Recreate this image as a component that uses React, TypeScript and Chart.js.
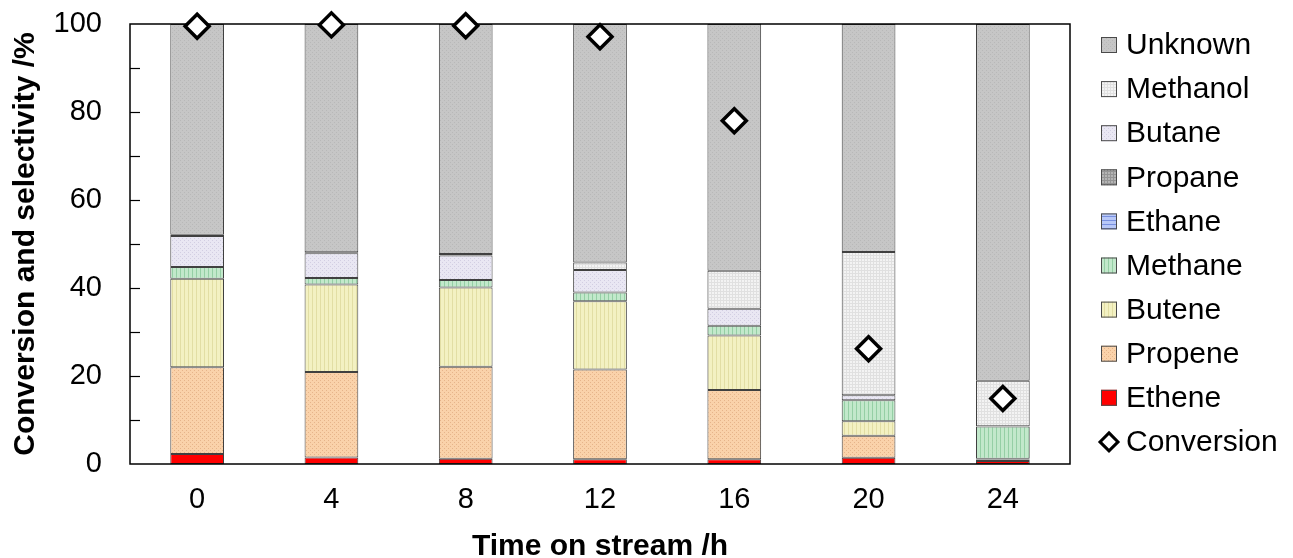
import React, { useEffect, useRef } from "react";
import { Chart, registerables } from "chart.js";
Chart.register(...registerables);

const categories = ["0", "4", "8", "12", "16", "20", "24"];
const ethene = [2.3, 1.5, 1.2, 1.1, 1.1, 1.4, 0.7];
const propene = [19.7, 19.4, 20.9, 20.4, 15.7, 5.0, 0.3];
const butene = [20.1, 19.9, 18.0, 15.5, 12.4, 3.3, 0.2];
const methane = [2.7, 1.5, 1.7, 2.0, 2.2, 4.8, 7.3];
const ethane = [0, 0, 0, 0, 0, 0, 0];
const propane = [0, 0, 0, 0, 0, 0, 0];
const butane = [7.0, 5.6, 5.6, 5.1, 3.9, 1.1, 0.1];
const methanol = [0.3, 0.2, 0.3, 1.7, 8.6, 32.6, 10.3];
const unknown = [47.9, 51.9, 52.3, 54.2, 56.1, 51.8, 81.1];
const conversion = [99.5, 99.8, 99.6, 97.1, 78.0, 26.2, 14.9];
const yTickValues = [0, 20, 40, 60, 80, 100];
const legendOrder = ["Unknown", "Methanol", "Butane", "Propane", "Ethane", "Methane", "Butene", "Propene", "Ethene", "Conversion"];

const FONT = "'Liberation Sans', Arial, sans-serif";

function makePattern(bg: string, fg: string, kind: string): CanvasPattern | string {
  const c = document.createElement("canvas");
  const s = kind === "grid" ? 3 : 4;
  c.width = s;
  c.height = s;
  const x = c.getContext("2d");
  if (!x) return bg;
  x.fillStyle = bg;
  x.fillRect(0, 0, s, s);
  x.fillStyle = fg;
  if (kind === "dots") {
    x.fillRect(0, 0, 1, 1);
    x.fillRect(2, 2, 1, 1);
  } else if (kind === "vlines") {
    x.fillRect(0, 0, 1, s);
  } else if (kind === "hlines") {
    x.fillRect(0, 0, s, 1);
  } else if (kind === "grid") {
    x.fillRect(0, 0, 1, s);
    x.fillRect(0, 0, s, 1);
  }
  const p = x.createPattern(c, "repeat");
  return p || bg;
}

export default function App() {
  const ref = useRef<HTMLCanvasElement>(null);
  useEffect(() => {
    document.body.style.margin = "0";
    const canvas = ref.current;
    if (!canvas) return;

    const series = [
      { label: "Ethene", data: ethene, fill: "#ff0000" as any },
      { label: "Propene", data: propene, fill: makePattern("#fad2aa", "#e6b48a", "dots") },
      { label: "Butene", data: butene, fill: makePattern("#f3f1c2", "#e2dea4", "vlines") },
      { label: "Methane", data: methane, fill: makePattern("#c2e8cb", "#95cfa5", "vlines") },
      { label: "Ethane", data: ethane, fill: makePattern("#b8c8f8", "#7890e0", "hlines") },
      { label: "Propane", data: propane, fill: makePattern("#b4b4b4", "#949494", "grid") },
      { label: "Butane", data: butane, fill: makePattern("#e9e7f3", "#d2cee2", "dots") },
      { label: "Methanol", data: methanol, fill: makePattern("#f3f3f3", "#e0e0e0", "grid") },
      { label: "Unknown", data: unknown, fill: makePattern("#c6c6c6", "#b8b8b8", "dots") },
    ];

    const datasets: any[] = series.map((s) => ({
      type: "bar",
      label: s.label,
      data: s.data,
      backgroundColor: s.fill,
      borderColor: "#404040",
      borderWidth: 1,
      borderSkipped: false,
      order: 1,
      barPercentage: 0.4,
      categoryPercentage: 1,
    }));
    datasets.push({
      type: "line",
      label: "Conversion",
      data: conversion,
      showLine: false,
      pointStyle: "rectRot",
      pointRadius: 12,
      pointBackgroundColor: "#ffffff",
      pointBorderColor: "#000000",
      pointBorderWidth: 3.5,
      order: 0,
      clip: false,
    });

    const framePlugin = {
      id: "frameAndLegend",
      beforeDatasetDraw(chart: any, args: any) {
        if (args.index !== datasets.length - 1) return;
        const { ctx, chartArea } = chart;
        const ys = chart.scales.y;
        ctx.save();
        ctx.strokeStyle = "#000";
        ctx.lineWidth = 1.5;
        ctx.strokeRect(chartArea.left, chartArea.top, chartArea.right - chartArea.left, chartArea.bottom - chartArea.top);
        ctx.lineWidth = 1.2;
        for (let v = 10; v < 100; v += 10) {
          const y = Math.round(ys.getPixelForValue(v)) + 0.5;
          ctx.beginPath();
          ctx.moveTo(chartArea.left, y);
          ctx.lineTo(chartArea.left + 10, y);
          ctx.stroke();
        }
        ctx.restore();
      },
      afterDraw(chart: any) {
        const { ctx } = chart;
        ctx.save();
        ctx.font = `30px ${FONT}`;
        ctx.textBaseline = "middle";
        ctx.textAlign = "left";
        legendOrder.forEach((name, i) => {
          const cy = 45 + i * 44.1;
          const ds = chart.data.datasets.find((d: any) => d.label === name);
          if (!ds) return;
          if (ds.type === "line") {
            ctx.beginPath();
            const r = 9;
            const cx = 1109;
            ctx.moveTo(cx, cy - r);
            ctx.lineTo(cx + r, cy);
            ctx.lineTo(cx, cy + r);
            ctx.lineTo(cx - r, cy);
            ctx.closePath();
            ctx.fillStyle = "#fff";
            ctx.fill();
            ctx.lineWidth = 3;
            ctx.strokeStyle = "#000";
            ctx.stroke();
          } else {
            ctx.fillStyle = ds.backgroundColor;
            ctx.fillRect(1101, cy - 8, 16, 16);
            ctx.lineWidth = 1;
            ctx.strokeStyle = "#4a4a4a";
            ctx.strokeRect(1101.5, cy - 7.5, 15, 15);
          }
          ctx.fillStyle = "#000";
          ctx.fillText(name, 1126, cy + 1);
        });
        ctx.restore();
      },
    };

    const chart = new Chart(canvas, {
      type: "bar",
      data: { labels: categories, datasets },
      plugins: [framePlugin],
      options: {
        animation: false,
        responsive: false,
        layout: { autoPadding: false, padding: { left: 0, right: 223, top: 24, bottom: -7 } },
        plugins: { legend: { display: false }, tooltip: { enabled: false } },
        scales: {
          x: {
            stacked: true,
            grid: { display: false, drawTicks: false },
            border: { display: false },
            ticks: { color: "#000", font: { family: FONT, size: 29 }, padding: 19 },
            title: {
              display: true,
              text: "Time on stream /h",
              color: "#000",
              font: { family: FONT, size: 30, weight: "bold" },
              padding: { top: 0, bottom: 0 },
            },
            afterFit: (s: any) => {
              s.height = 101;
              s.paddingLeft = 0;
              s.paddingRight = 0;
            },
          },
          y: {
            stacked: true,
            min: 0,
            max: 100,
            afterBuildTicks: (s: any) => {
              s.ticks = yTickValues.map((v) => ({ value: v }));
            },
            grid: { display: false, drawTicks: false },
            border: { display: false },
            ticks: { color: "#000", font: { family: FONT, size: 29 }, padding: 28 },
            title: {
              display: true,
              text: "Conversion and selectivity /%",
              color: "#000",
              font: { family: FONT, size: 30, weight: "bold" },
              padding: { top: 8, bottom: 0 },
            },
            afterFit: (s: any) => {
              s.width = 130;
              s.paddingTop = 0;
              s.paddingBottom = 0;
            },
          },
        },
      } as any,
    });
    return () => chart.destroy();
  }, []);

  return (
    <div style={{ width: 1293, height: 558, background: "#fff" }}>
      <canvas ref={ref} width={1293} height={558} style={{ display: "block" }} />
    </div>
  );
}
